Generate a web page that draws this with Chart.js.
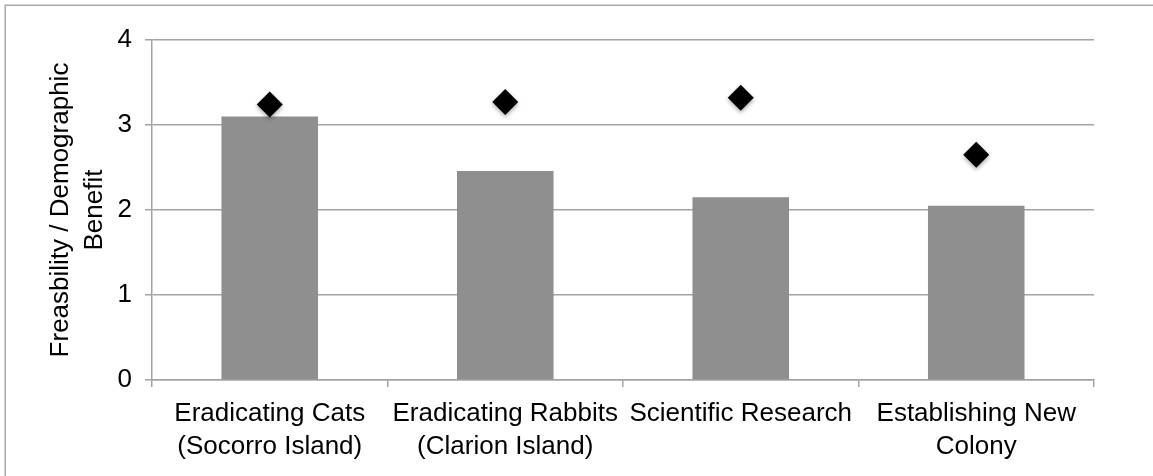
<!DOCTYPE html>
<html>
<head>
<meta charset="utf-8">
<script src="https://cdn.jsdelivr.net/npm/chart.js@4/dist/chart.umd.min.js"></script>
<style>
  html, body { margin: 0; padding: 0; background: #ffffff; }
  #wrap { position: relative; width: 1153px; height: 476px; }
</style>
</head>
<body>
<div id="wrap"><canvas id="chart" width="1153" height="476"></canvas></div>
<script>
// Management options on the x axis
const categories = [
  ['Eradicating Cats', '(Socorro Island)'],
  ['Eradicating Rabbits', '(Clarion Island)'],
  ['Scientific Research'],
  ['Establishing New', 'Colony']
];
// Bars: feasibility score
const feasibility = [3.10, 2.46, 2.15, 2.05];
// Diamonds: demographic benefit score
const demographicBenefit = [3.24, 3.27, 3.32, 2.65];
// Value axis ticks
const yTicks = [0, 1, 2, 3, 4];
const yTitle = ['Freasbility / Demographic', 'Benefit'];

const FONT = '"Liberation Sans", Arial, Helvetica, sans-serif';
const GRID = '#a3a3a3';

// Thin outline around the whole figure
const framePlugin = {
  id: 'frame',
  beforeDraw(chart) {
    const ctx = chart.ctx;
    ctx.save();
    ctx.fillStyle = '#ffffff';
    ctx.fillRect(0, 0, chart.width, chart.height);
    ctx.strokeStyle = '#a8a8a8';
    ctx.lineWidth = 1.5;
    ctx.strokeRect(5.25, 5.25, chart.width + 20, chart.height + 20);
    ctx.restore();
  }
};

// Soft drop shadow under the diamond markers
const shadowPlugin = {
  id: 'markerShadow',
  beforeDatasetDraw(chart, args) {
    if (args.meta.type !== 'line') return;
    const ctx = chart.ctx;
    ctx.save();
    ctx.shadowColor = 'rgba(0,0,0,0.35)';
    ctx.shadowBlur = 4;
    ctx.shadowOffsetX = 0;
    ctx.shadowOffsetY = 2;
  },
  afterDatasetDraw(chart, args) {
    if (args.meta.type !== 'line') return;
    chart.ctx.restore();
  }
};

new Chart(document.getElementById('chart'), {
  type: 'bar',
  data: {
    labels: categories,
    datasets: [
      {
        type: 'line',
        label: 'Demographic benefit',
        data: demographicBenefit,
        showLine: false,
        pointStyle: 'rectRot',
        pointRadius: 13,
        pointBorderWidth: 0,
        pointBackgroundColor: '#000000',
        pointBorderColor: '#000000',
        order: 0
      },
      {
        type: 'bar',
        label: 'Feasibility',
        data: feasibility,
        backgroundColor: '#8f8f8f',
        borderWidth: 0,
        categoryPercentage: 1.0,
        barPercentage: 0.41,
        order: 1
      }
    ]
  },
  options: {
    responsive: false,
    animation: false,
    devicePixelRatio: 1,
    layout: { padding: { top: 40, right: 59, bottom: 0, left: 0 } },
    plugins: {
      legend: { display: false },
      tooltip: { enabled: false }
    },
    scales: {
      x: {
        offset: true,
        grid: {
          display: true,
          offset: true,
          drawOnChartArea: false,
          drawTicks: true,
          tickLength: 7,
          color: GRID,
          lineWidth: 1.5
        },
        border: { display: true, color: GRID, width: 1.5 },
        ticks: {
          color: '#000000',
          font: { family: FONT, size: 26, lineHeight: 1.27 },
          padding: 10,
          maxRotation: 0,
          minRotation: 0,
          autoSkip: false
        },
        afterFit(scale) { scale.height = 96; }
      },
      y: {
        min: 0,
        max: 4,
        afterBuildTicks(scale) { scale.ticks = yTicks.map(v => ({ value: v })); },
        grid: {
          color: GRID,
          lineWidth: 1.5,
          drawTicks: true,
          tickLength: 7
        },
        border: { display: true, color: GRID, width: 1.5 },
        ticks: {
          color: '#000000',
          font: { family: FONT, size: 26 },
          padding: 13
        },
        title: {
          display: true,
          text: yTitle,
          color: '#000000',
          font: { family: FONT, size: 26, lineHeight: 1.31 },
          padding: { top: 44, bottom: 0 }
        },
        afterFit(scale) { scale.width = 152; }
      }
    }
  },
  plugins: [framePlugin, shadowPlugin]
});
</script>
</body>
</html>
